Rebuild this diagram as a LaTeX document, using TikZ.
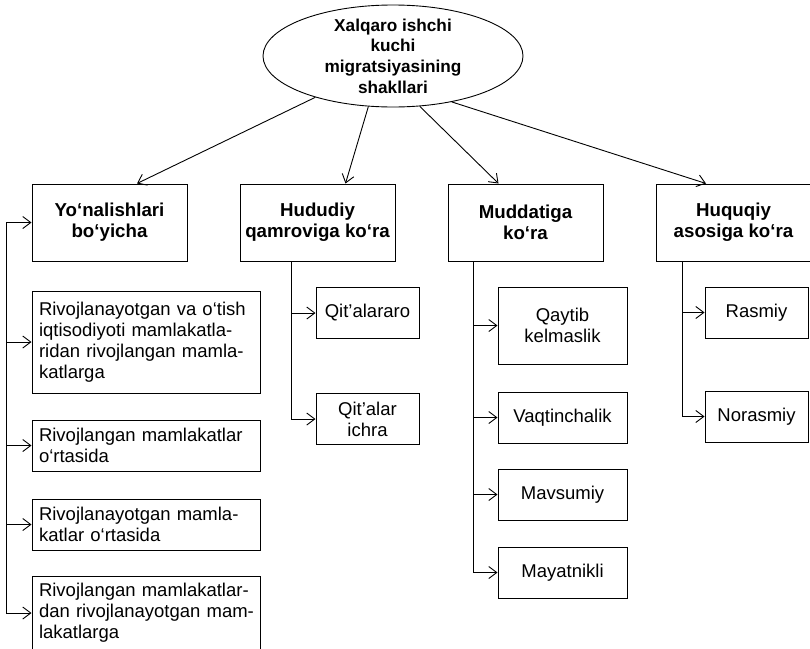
\documentclass[tikz,border=0pt]{standalone}
\usepackage{fontspec}
\setmainfont{Liberation Sans}
\usetikzlibrary{positioning,arrows.meta,shapes.geometric}

\begin{document}
\begin{tikzpicture}[
    x=1pt, y=-1pt,
    node distance=26pt and 52pt,
    every node/.style={font=\fontsize{18.5}{21}\selectfont},
    head/.style={ellipse, draw=black, line width=0.9pt,
                 minimum width=260pt, minimum height=102pt,
                 inner xsep=0pt, inner ysep=-8pt, align=center,
                 font=\fontsize{17.2}{20.6}\selectfont\bfseries},
    cat/.style={rectangle, draw=black, line width=1pt,
                minimum width=155pt, minimum height=77pt,
                inner xsep=3pt, align=center,
                font=\fontsize{18.7}{21}\selectfont\bfseries},
    item/.style={rectangle, draw=black, line width=1pt,
                 text width=214pt, inner xsep=7pt, inner ysep=3pt,
                 minimum height=51pt, align=left},
    sub/.style={rectangle, draw=black, line width=1pt,
                minimum width=#1, minimum height=51pt,
                inner ysep=2pt, align=center},
    sub/.default=103pt,
    arr/.style={-{Straight Barb[length=8pt,width=12pt]}, line width=0.9pt}
]
\useasboundingbox (0,0) rectangle (810,648);

% top
\node[head] (mig) at (393,56) {Xalqaro ishchi\\kuchi\\migratsiyasining\\shakllari};

% categories
\node[cat]               (dir) at (109.5,222.5) {Yo‘nalishlari\\bo‘yicha};
\node[cat, right=of dir] (reg) {Hududiy\\qamroviga ko‘ra};
\node[cat, right=of reg] (dur) {Muddatiga\\ko‘ra};
\node[cat, right=of dur] (leg) {Huquqiy\\asosiga ko‘ra};

% directions
\node[item, minimum height=102pt, below=29pt of dir.south west, anchor=north west] (l1)
    {\mbox{Rivojlanayotgan va o‘tish}\\\mbox{iqtisodiyoti mamlakatla-}\\\mbox{ridan rivojlangan mamla-}\\katlarga};
\node[item, below=of l1]      (l2) {\mbox{Rivojlangan mamlakatlar}\\o‘rtasida};
\node[item, below=27pt of l2] (l3) {\mbox{Rivojlanayotgan mamla-}\\\mbox{katlar o‘rtasida}};
\node[item, minimum height=74pt, below=25pt of l3] (l4)
    {\mbox{Rivojlangan mamlakatlar-}\\\mbox{dan rivojlanayotgan mam-}\\lakatlarga};

% regions
\node[sub]                        (inter) at (367.5,313) {Qit’alararo};
\node[sub, below=54pt of inter]   (intra) {Qit’alar\\ichra};

% duration
\node[sub=129pt, minimum height=77pt] (ret) at (562.5,325.5) {Qaytib\\kelmaslik};
\node[sub=129pt, below=27pt of ret]   (tmp) {Vaqtinchalik};
\node[sub=129pt, below=25pt of tmp]   (sea) {Mavsumiy};
\node[sub=129pt, below=of sea]        (pen) {Mayatnikli};

% legal basis
\node[sub]                        (off)   at (756.5,312.5) {Rasmiy};
\node[sub, below=52pt of off]     (unoff) {Norasmiy};

% connectors
\draw[arr] (mig.208) -- ([xshift=27.5pt]dir.north);
\draw[arr] (mig.244) -- ([xshift=28pt]reg.north);
\draw[arr] (mig.298) -- ([xshift=-27pt]dur.north);
\draw[arr] (mig.322) -- ([xshift=-27.5pt]leg.north);

\coordinate[left=25.5pt of dir.west] (lsp);
\draw[arr] (lsp) -- (dir.west);
\foreach \n in {l1,l2,l3,l4}
    \draw[arr] (lsp) |- (\n.west);
\foreach \n in {inter,intra}
    \draw[arr] ([xshift=-26pt]reg.south) |- (\n.west);
\foreach \n in {ret,tmp,sea,pen}
    \draw[arr] ([xshift=-52pt]dur.south) |- (\n.west);
\foreach \n in {off,unoff}
    \draw[arr] ([xshift=-51.5pt]leg.south) |- (\n.west);
\end{tikzpicture}
\end{document}
